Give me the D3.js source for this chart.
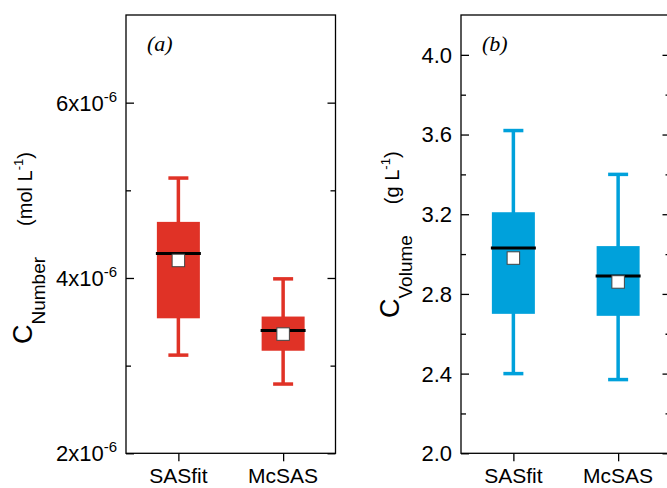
<!DOCTYPE html>
<html><head><meta charset="utf-8">
<script src="https://cdn.jsdelivr.net/npm/d3@7"></script>
<style>
body{margin:0;background:#fff}
svg{display:block}
text{font-family:"Liberation Sans",Arial,Helvetica,sans-serif;fill:#000}
</style>
</head><body>
<svg id="chart" width="667" height="488"></svg>
<script>
// ---- data ----
const categories = ["SASfit", "McSAS"];

const numberMin    = [3.12e-6, 2.79e-6];
const numberQ1     = [3.54e-6, 3.17e-6];
const numberMedian = [4.28e-6, 3.40e-6];
const numberMean   = [4.20e-6, 3.36e-6];
const numberQ3     = [4.64e-6, 3.56e-6];
const numberMax    = [5.14e-6, 3.99e-6];

const volumeMin    = [2.40, 2.37];
const volumeQ1     = [2.70, 2.69];
const volumeMedian = [3.03, 2.89];
const volumeMean   = [2.98, 2.86];
const volumeQ3     = [3.21, 3.04];
const volumeMax    = [3.62, 3.40];

const numberMajorTicks = [2e-6, 4e-6, 6e-6];
const numberMinorTicks = [3e-6, 5e-6];
const numberTickMantissas = ["2x10", "4x10", "6x10"];
const numberTickExponent = "-6";

const volumeMajorTicks = [2.0, 2.4, 2.8, 3.2, 3.6, 4.0];
const volumeMinorTicks = [2.2, 2.6, 3.0, 3.4, 3.8];
const volumeTickLabels = ["2.0", "2.4", "2.8", "3.2", "3.6", "4.0"];

// ---- drawing ----
const svg = d3.select("#chart");

function drawPanel(p) {
  const g = svg.append("g");
  const x = d3.scalePoint().domain(categories).range([p.left, p.right]).padding(0.5);
  const y = d3.scaleLinear().domain(p.domain).range([p.bottom, p.top]);

  const strip = sel => { sel.select(".domain").remove(); sel.selectAll("line").attr("stroke", "#000").attr("stroke-width", 1.3); };
  g.append("g").attr("transform", `translate(${p.left},0)`)
    .call(d3.axisLeft(y).tickValues(p.major).tickSize(-8).tickFormat("")).call(strip);
  g.append("g").attr("transform", `translate(${p.left},0)`)
    .call(d3.axisLeft(y).tickValues(p.minor).tickSize(-5).tickFormat("")).call(strip);
  g.append("g").attr("transform", `translate(${p.right},0)`)
    .call(d3.axisRight(y).tickValues(p.major).tickSize(-8).tickFormat("")).call(strip);
  g.append("g").attr("transform", `translate(${p.right},0)`)
    .call(d3.axisRight(y).tickValues(p.minor).tickSize(-5).tickFormat("")).call(strip);
  g.append("g").attr("transform", `translate(0,${p.bottom})`)
    .call(d3.axisBottom(x).tickSize(8).tickFormat("")).call(strip);

  g.append("rect").attr("x", p.left).attr("y", p.top)
    .attr("width", p.right - p.left).attr("height", p.bottom - p.top)
    .attr("fill", "none").attr("stroke", "#000").attr("stroke-width", 1.3);

  g.selectAll(".cat").data(categories).join("text")
    .attr("x", d => x(d)).attr("y", 483)
    .attr("text-anchor", "middle").attr("font-size", 21).text(d => d);

  const lab = g.selectAll(".ytl").data(p.major).join("text")
    .attr("x", p.left - 9).attr("y", d => y(d)).attr("dy", "0.36em")
    .attr("text-anchor", "end").attr("font-size", 22);
  lab.append("tspan").text((d, i) => p.labels[i]);
  if (p.exponent) {
    lab.append("tspan").attr("font-size", 15).attr("dy", -9).text(p.exponent);
  }

  const idx = categories.map((c, i) => i);
  const bw = 43, cw = 20;
  const bx = g.append("g");
  bx.selectAll(".wh").data(idx).join("line")
    .attr("x1", i => x(categories[i])).attr("x2", i => x(categories[i]))
    .attr("y1", i => y(p.min[i])).attr("y2", i => y(p.max[i]))
    .attr("stroke", p.color).attr("stroke-width", 3.5);
  bx.selectAll(".capT").data(idx).join("line")
    .attr("x1", i => x(categories[i]) - cw / 2).attr("x2", i => x(categories[i]) + cw / 2)
    .attr("y1", i => y(p.max[i])).attr("y2", i => y(p.max[i]))
    .attr("stroke", p.color).attr("stroke-width", 3.5);
  bx.selectAll(".capB").data(idx).join("line")
    .attr("x1", i => x(categories[i]) - cw / 2).attr("x2", i => x(categories[i]) + cw / 2)
    .attr("y1", i => y(p.min[i])).attr("y2", i => y(p.min[i]))
    .attr("stroke", p.color).attr("stroke-width", 3.5);
  bx.selectAll(".box").data(idx).join("rect")
    .attr("x", i => x(categories[i]) - bw / 2).attr("width", bw)
    .attr("y", i => y(p.q3[i])).attr("height", i => y(p.q1[i]) - y(p.q3[i]))
    .attr("fill", p.color);
  bx.selectAll(".med").data(idx).join("line")
    .attr("x1", i => x(categories[i]) - bw / 2 - 1).attr("x2", i => x(categories[i]) + bw / 2 + 1)
    .attr("y1", i => y(p.median[i])).attr("y2", i => y(p.median[i]))
    .attr("stroke", "#000").attr("stroke-width", 3);
  const ms = 12.5;
  bx.selectAll(".mean").data(idx).join("rect")
    .attr("x", i => x(categories[i]) - ms / 2).attr("y", i => y(p.mean[i]) - ms / 2)
    .attr("width", ms).attr("height", ms)
    .attr("fill", "#fff").attr("stroke", "#444").attr("stroke-width", 1);

  g.append("text").attr("x", p.left + 21).attr("y", 51)
    .style("font-family", "'Liberation Serif','Times New Roman',serif")
    .attr("font-style", "italic").attr("font-size", 22).text(p.tag);

  const t = g.append("text")
    .attr("transform", `translate(${p.titleX},${p.titleY}) rotate(-90)`)
    .attr("text-anchor", "start");
  t.append("tspan").attr("font-size", 27).text("C");
  t.append("tspan").attr("font-size", 19).attr("dy", 13).text(p.sub);
  t.append("tspan").attr("font-size", 20).attr("dy", -13).attr("dx", 31).text(p.unit);
  t.append("tspan").attr("font-size", 13).attr("dy", -9).text("-1");
  t.append("tspan").attr("font-size", 20).attr("dy", 9).text(")");
}

drawPanel({
  left: 126, right: 335.5, top: 15, bottom: 453.3,
  domain: [2e-6, 7e-6], major: numberMajorTicks, minor: numberMinorTicks,
  labels: numberTickMantissas, exponent: numberTickExponent,
  color: "#e03226",
  min: numberMin, q1: numberQ1, median: numberMedian, mean: numberMean, q3: numberQ3, max: numberMax,
  tag: "(a)", sub: "Number", unit: "(mol L", titleX: 32, titleY: 344
});

drawPanel({
  left: 461, right: 670.5, top: 15, bottom: 453.3,
  domain: [2.0, 4.2], major: volumeMajorTicks, minor: volumeMinorTicks,
  labels: volumeTickLabels, exponent: null,
  color: "#00a1db",
  min: volumeMin, q1: volumeQ1, median: volumeMedian, mean: volumeMean, q3: volumeQ3, max: volumeMax,
  tag: "(b)", sub: "Volume", unit: "(g L", titleX: 399, titleY: 318
});
</script>
</body></html>
